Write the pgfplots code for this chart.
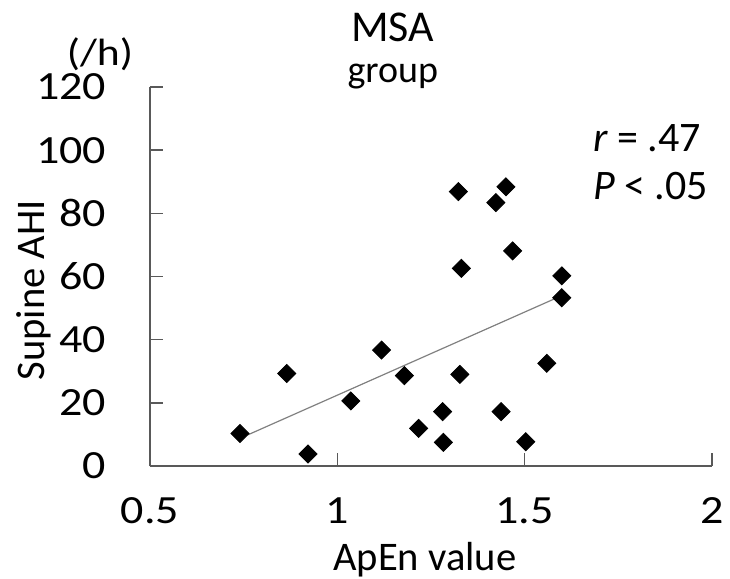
\documentclass[border=0pt]{standalone}
\usepackage{fontspec}
\setmainfont{Carlito}
\newfontfamily\tickfont{Carlito}[FakeStretch=1.15]
\usepackage{pgfplots}
\pgfplotsset{compat=1.18}
\begin{document}
\begin{tikzpicture}
\path[use as bounding box] (-75bp,-56.5bp) rectangle (290bp,233bp);
\begin{axis}[
 at={(0,0)}, anchor=south west,
 scale only axis, width=281bp, height=189.5bp,
 xmin=0.5, xmax=2, ymin=0, ymax=120,
 axis x line=bottom, axis y line=left,
 axis line style={-, draw=gray!70!black, line width=0.8bp},
 xtick={0.5,1,1.5,2}, ytick={0,20,...,120},
 tick align=inside, major tick length=6.5bp,
 tick style={draw=gray!70!black, line width=0.8bp},
 ticklabel style={font=\tickfont\fontsize{20bp}{23bp}\selectfont},
 /pgf/number format/assume math mode=true,
 xticklabel shift=12.2bp, yticklabel shift=18.5bp,
 xlabel={ApEn value}, ylabel={Supine AHI},
 label style={font=\fontsize{20.3bp}{24bp}\selectfont},
 xlabel style={at={(axis description cs:0.489,-0.2744)}, anchor=base},
 ylabel style={at={(axis description cs:-0.187,0.464)}, anchor=base},
 clip=false,
]
\addplot[gray, line width=0.6bp, no marks] coordinates {(0.76,9.8) (1.60,54.0)};
\addplot[only marks, mark=square*, mark size=3.2bp, mark options={rotate=45, fill=black, draw=black}] coordinates {
(0.740,10.3)
(0.865,29.3)
(0.922,3.8)
(1.036,20.6)
(1.118,36.7)
(1.179,28.6)
(1.217,11.9)
(1.281,17.2)
(1.283,7.5)
(1.323,86.9)
(1.327,29.0)
(1.331,62.6)
(1.423,83.4)
(1.437,17.2)
(1.450,88.4)
(1.468,68.1)
(1.503,7.7)
(1.559,32.5)
(1.599,60.2)
(1.599,53.3)
};
\node[font=\fontsize{22bp}{25bp}\selectfont] at (axis description cs:0.432,1.158) {MSA};
\node[font=\fontsize{19bp}{22bp}\selectfont, anchor=base] at (axis description cs:0.432,1.0106) {group};
\node[font=\tickfont\fontsize{19bp}{22bp}\selectfont, anchor=base, inner sep=0pt] at (axis description cs:-0.089,1.058) {(/h)};
\node[font=\fontsize{21bp}{24bp}\selectfont, anchor=base west, inner sep=0pt] at (axis description cs:0.788,0.8285) {\textit{r} = .47};
\node[font=\fontsize{21bp}{24bp}\selectfont, anchor=base west, inner sep=0pt] at (axis description cs:0.788,0.702) {\textit{P} < .05};
\end{axis}
\end{tikzpicture}
\end{document}
